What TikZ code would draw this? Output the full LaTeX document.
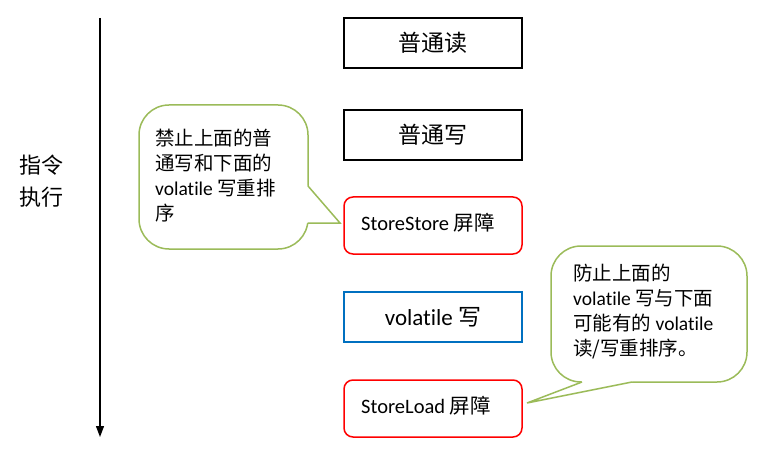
\documentclass[tikz,border=0pt]{standalone}
\usepackage{fontspec}
\setmainfont{Carlito}[Ligatures=NoCommon]
\newfontfamily\cjk{Noto Sans CJK SC}
\newcommand{\zh}[1]{{\cjk #1}}
\usetikzlibrary{arrows.meta}
\definecolor{cgreen}{HTML}{9BBB59}
\definecolor{cblue}{HTML}{0070C0}
\begin{document}
\begin{tikzpicture}[x=1pt,y=-1pt,
  box/.style={draw, line width=1.5pt, minimum width=178pt, minimum height=50pt, inner sep=0pt, font=\fontsize{23}{26}\selectfont},
  barrier/.style={box, draw=red, rounded corners=9pt, minimum height=57pt},
  btext/.style={anchor=west, inner sep=0pt, font=\fontsize{20.5}{24}\selectfont},
  callout/.style={draw=cgreen, line width=1.5pt, fill=white, rounded corners=30pt},
  pointer/.style={draw=cgreen, line width=1.5pt, line join=miter},
  ctext/.style={anchor=north west, align=left, inner sep=0pt, font=\fontsize{19.5}{25}\selectfont}
]
\useasboundingbox (0,0) rectangle (776,449);
% time arrow
\coordinate (top) at (100,18);
\coordinate (bot) at (100,437);
\draw[line width=1.3pt, -{Triangle[length=11pt,width=8pt]}] (top) -- (bot);
\node[anchor=west, align=left, inner sep=0pt, font=\fontsize{22}{32}\selectfont\cjk] (exec) at (19,181) {指令\\执行};
% boxes
\node[box] (r) at (433,43) {\zh{普通读}};
\node[box] (w) at (433,135) {\zh{普通写}};
\node[barrier] (ss) at (433,225.5) {};
\node[btext] (sst) at (361,223) {StoreStore \zh{屏障}};
\node[box, draw=cblue] (vw) at (433,317) {volatile \zh{写}};
\node[barrier] (sl) at (433,408.5) {};
\node[btext] (slt) at (361,406) {StoreLoad \zh{屏障}};
% callout 1
\coordinate (tip1) at (340,223);
\coordinate (b1a) at (308,186);
\coordinate (b1b) at (307.6,223);
\draw[callout] (139,105) rectangle (308,249);
\fill[white] (306.2,186) -- (306.2,223) -- (b1b) -- (tip1) -- (b1a) -- cycle;
\draw[pointer] (b1a) -- (tip1) -- (b1b);
\node[ctext] (c1) at (155,129) {\zh{禁止上面的普}\\\zh{通写和下面的}\\volatile \zh{写重排}\\\zh{序}};
% callout 2
\coordinate (tip2) at (527,403);
\coordinate (b2a) at (582,382);
\coordinate (b2b) at (632,382);
\draw[callout] (551,246) rectangle (747,382);
\fill[white] (582,380.2) -- (632,380.2) -- (b2b) -- (tip2) -- (b2a) -- cycle;
\draw[pointer] (b2a) -- (tip2) -- (b2b);
\node[ctext] (c2) at (573,264) {\zh{防止上面的}\\volatile \zh{写与下面}\\\zh{可能有的} volatile\\\zh{读/写重排序。}};
\end{tikzpicture}
\end{document}
